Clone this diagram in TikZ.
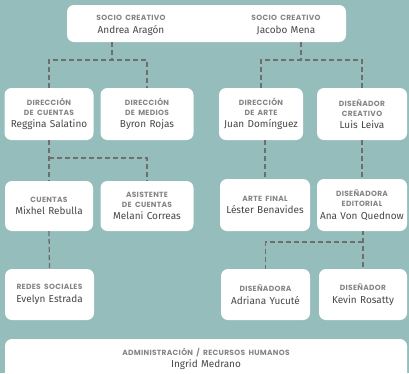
\documentclass[tikz,border=0pt]{standalone}
\usepackage{fontspec}
\setmainfont{Fira Sans}
\newfontfamily\capfont[LetterSpace=4]{Poppins}

\definecolor{fondo}{HTML}{95BDBC}
\definecolor{linea}{HTML}{6E6E6E}
\definecolor{gristit}{HTML}{858585}
\definecolor{grisnom}{HTML}{474747}

\newcommand{\cargo}[1]{{\capfont\bfseries\fontsize{7.5}{10}\selectfont\color{gristit}#1\par}}

\tikzset{
  puesto/.style n args={2}{fill=white, rounded corners=7pt, align=center, inner sep=0pt,
    minimum width=#1, text width=#1, minimum height=#2, text=grisnom,
    font=\fontsize{10}{12.5}\selectfont},
  nombre/.style={align=center, inner sep=0pt, text width=110pt, text=grisnom,
    font=\fontsize{10}{13}\selectfont},
  enlace/.style={draw=linea, line width=1.3pt, dash pattern=on 5pt off 3pt}
}

\begin{document}
\begin{tikzpicture}[x=1pt, y=-1pt]

\fill[fondo] (0,0) rectangle (409,373);
\useasboundingbox (0,0) rectangle (409,373);
\clip (0,0) rectangle (409,373);

% socios
\node[puesto={279pt}{37pt}] (socios) at (206.5,23.5) {};
\node[nombre] (andrea) at (131,25) {\cargo{SOCIO CREATIVO}Andrea Aragón};
\node[nombre] (jacobo) at (286,25) {\cargo{SOCIO CREATIVO}Jacobo Mena};

% segunda fila
\node[puesto={89pt}{52pt}] (dircuentas) at (49,114) {\cargo{DIRECCIÓN\\DE CUENTAS}Reggina Salatino};
\node[puesto={93pt}{52pt}] (dirmedios) at (147,114) {\cargo{DIRECCIÓN\\DE MEDIOS}Byron Rojas};
\node[puesto={84pt}{52pt}] (dirarte) at (261,114) {\cargo{DIRECCIÓN\\DE ARTE}Juan Domínguez};
\node[puesto={90pt}{52pt}] (creativo) at (362,114) {\cargo{DISEÑADOR\\CREATIVO}Luis Leiva};

% tercera fila
\node[puesto={88pt}{50pt}] (cuentas) at (49,206) {\cargo{CUENTAS}Mixhel Rebulla};
\node[puesto={93pt}{50pt}] (asistente) at (147,206) {\cargo{ASISTENTE\\DE CUENTAS}Melani Correas};
\node[puesto={90pt}{52pt}] (artefinal) at (265,205) {\cargo{ARTE FINAL}Léster Benavides};
\node[puesto={90pt}{52pt}] (editorial) at (362,205) {\cargo{DISEÑADORA\\EDITORIAL}Ana Von Quednow};

% cuarta fila
\node[puesto={89pt}{51pt}] (redes) at (49.5,294.5) {\cargo{REDES SOCIALES}Evelyn Estrada};
\node[puesto={89pt}{51pt}] (adriana) at (265.5,294.5) {\cargo{DISEÑADORA}Adriana Yucuté};
\node[puesto={88pt}{51pt}] (kevin) at (363,294.5) {\cargo{DISEÑADOR}Kevin Rosatty};

% administracion
\node[puesto={402pt}{40pt}] (admin) at (206,359) {\cargo{ADMINISTRACIÓN / RECURSOS HUMANOS}Ingrid Medrano};

% enlaces
\coordinate (hubA) at (112,60);
\coordinate (hubB) at (301,60);
\coordinate (hubC) at (49,158);
\coordinate (hubD) at (363,242);

\draw[enlace] (socios.south -| hubA) -- (hubA);
\draw[enlace] (dircuentas.north) |- (hubA) -| (dirmedios.north);
\draw[enlace] (socios.south -| hubB) -- (hubB);
\draw[enlace] (dirarte.north) |- (hubB) -| (creativo.north);

\draw[enlace] (dircuentas.south) -- (cuentas.north);
\draw[enlace] (hubC) -| (asistente.north);
\draw[enlace] (artefinal.north |- dirarte.south) -- (artefinal.north);
\draw[enlace] (creativo.south) -- (editorial.north);

\draw[enlace] (cuentas.south) -- (redes.north);
\draw[enlace] (editorial.south) -- (kevin.north |- editorial.south) -- (kevin.north);
\draw[enlace] (hubD) -| (adriana.north);

\end{tikzpicture}
\end{document}
